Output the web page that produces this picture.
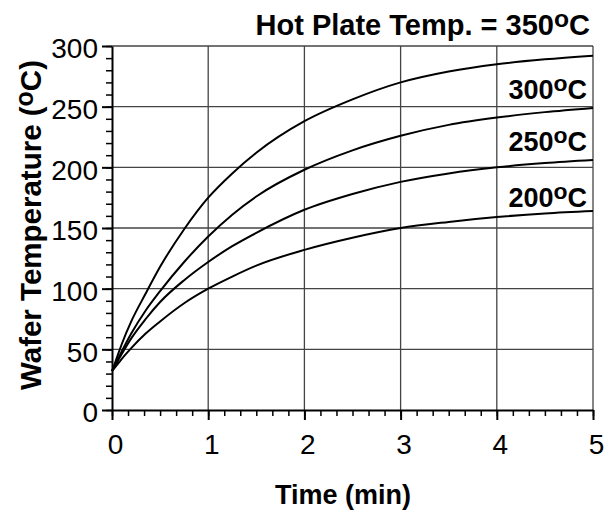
<!DOCTYPE html>
<html lang="en">
  <head>
    <meta charset="UTF-8" />
    <title>Wafer Temperature vs Time</title>
    <style>
      body {
        margin: 0;
        background-color: #fff;
      }

      svg {
        display: block;
        font-family: "Liberation Sans", Arial, sans-serif;
      }

      .grid line {
        stroke: #444;
        stroke-width: 1.3px;
      }

      .axis path,
      .axis line {
        stroke: #000;
        stroke-width: 2px;
      }

      .minor path {
        display: none;
      }

      .minor line {
        stroke: #000;
        stroke-width: 1.5px;
      }

      .curve {
        fill: none;
        stroke: #000;
        stroke-width: 2px;
      }
    </style>
  </head>
  <body>
    <svg id="chart"></svg>

    <script src="https://d3js.org/d3.v7.min.js"></script>
    <script>
      const width = 608;
      const height = 515;
      const margin = { top: 46, right: 15, bottom: 105, left: 112 };

      // time axis (min) and wafer temperatures
      const timeMin = [0, 0.05, 0.1, 0.2, 0.35, 0.5, 0.75, 1, 1.25, 1.5, 2, 2.5, 3, 3.5, 4, 4.5, 5];
      const temp350 = [32, 43, 54, 73, 96, 118, 149, 175, 195, 212, 238, 256, 270, 279, 285, 289, 292];
      const temp300 = [32, 40, 48, 63, 82, 98, 122, 143, 161, 176, 198, 214, 226, 235, 241, 245.5, 249];
      const temp250 = [32, 39, 46, 59, 75, 89, 107, 122, 135, 146, 165, 178, 188, 195, 200, 203.5, 206];
      const temp200 = [32, 37, 42, 51, 63, 73, 88, 100, 110, 119, 132, 142, 150, 155, 159, 162, 164];

      const xTicks = [0, 1, 2, 3, 4, 5];
      const yTicks = [0, 50, 100, 150, 200, 250, 300];
      const seriesLabels = ["300", "250", "200"];

      const series = [temp350, temp300, temp250, temp200];

      const tickFont = "'Liberation Sans Narrow', 'Liberation Sans', Arial, sans-serif";

      const svg = d3
        .select("#chart")
        .attr("width", width)
        .attr("height", height)
        .attr("viewBox", `0 0 ${width} ${height}`);

      const x = d3
        .scaleLinear()
        .domain([0, 5])
        .range([margin.left, width - margin.right]);

      const y = d3
        .scaleLinear()
        .domain([0, 300])
        .range([height - margin.bottom, margin.top]);

      // gridlines and frame
      const grid = svg.append("g").attr("class", "grid");
      grid
        .selectAll(".vx")
        .data(xTicks.slice(1))
        .join("line")
        .attr("x1", (d) => x(d))
        .attr("x2", (d) => x(d))
        .attr("y1", y(0))
        .attr("y2", y(300));
      grid
        .selectAll(".hy")
        .data(yTicks.slice(1))
        .join("line")
        .attr("x1", x(0))
        .attr("x2", x(5))
        .attr("y1", (d) => y(d))
        .attr("y2", (d) => y(d));

      // minor ticks
      svg
        .append("g")
        .attr("class", "minor")
        .attr("transform", `translate(0,${y(0)})`)
        .call(
          d3
            .axisBottom(x)
            .tickValues(d3.range(0, 31).map((i) => i / 6))
            .tickSize(6)
            .tickFormat("")
        );
      svg
        .append("g")
        .attr("class", "minor")
        .attr("transform", `translate(${x(0)},0)`)
        .call(
          d3
            .axisLeft(y)
            .tickValues(d3.range(0, 301, 10))
            .tickSize(6)
            .tickFormat("")
        );

      // major axes
      const xAxis = svg
        .append("g")
        .attr("class", "axis")
        .attr("transform", `translate(0,${y(0)})`)
        .call(
          d3
            .axisBottom(x)
            .tickValues(xTicks)
            .tickFormat(d3.format("d"))
            .tickSize(10)
            .tickSizeOuter(0)
            .tickPadding(14)
        );
      xAxis
        .selectAll("text")
        .attr("font-size", 28)
        .attr("font-family", tickFont)
        .attr("fill", "#000")
        .attr("dx", 3);

      const yAxis = svg
        .append("g")
        .attr("class", "axis")
        .attr("transform", `translate(${x(0)},0)`)
        .call(
          d3
            .axisLeft(y)
            .tickValues(yTicks)
            .tickFormat(d3.format("d"))
            .tickSize(10)
            .tickSizeOuter(0)
            .tickPadding(4)
        );
      yAxis
        .selectAll("text")
        .attr("font-size", 28)
        .attr("font-family", tickFont)
        .attr("fill", "#000")
        .attr("dy", "0.42em");

      // curves
      const line = d3
        .line()
        .x((d, i) => x(timeMin[i]))
        .y((d) => y(d))
        .curve(d3.curveMonotoneX);

      svg
        .selectAll(".curve")
        .data(series)
        .join("path")
        .attr("class", "curve")
        .attr("d", line);

      // text with a raised "o" for the degree sign
      function degText(sel, before, after, size) {
        sel.append("tspan").text(before);
        sel
          .append("tspan")
          .attr("font-size", size * 0.85)
          .attr("dy", -size * 0.28)
          .text("o");
        sel
          .append("tspan")
          .attr("dy", size * 0.28)
          .text(after);
      }

      const title = svg
        .append("text")
        .attr("x", 590)
        .attr("y", 35)
        .attr("text-anchor", "end")
        .attr("font-size", 29)
        .attr("font-weight", "bold");
      degText(title, "Hot Plate Temp. = 350", "C", 29);

      const labelY = [99, 151, 207];
      seriesLabels.forEach((t, i) => {
        const lbl = svg
          .append("text")
          .attr("x", 587)
          .attr("y", labelY[i])
          .attr("text-anchor", "end")
          .attr("font-size", 27)
          .attr("font-weight", "bold");
        degText(lbl, t, "C", 27);
      });

      const yTitle = svg
        .append("text")
        .attr("transform", "translate(41,225) rotate(-90)")
        .attr("text-anchor", "middle")
        .attr("font-size", 29.5)
        .attr("font-weight", "bold");
      degText(yTitle, "Wafer Temperature (", "C)", 29.5);

      svg
        .append("text")
        .attr("x", 343)
        .attr("y", 504)
        .attr("text-anchor", "middle")
        .attr("font-size", 27)
        .attr("font-weight", "bold")
        .text("Time (min)");
    </script>
  </body>
</html>
